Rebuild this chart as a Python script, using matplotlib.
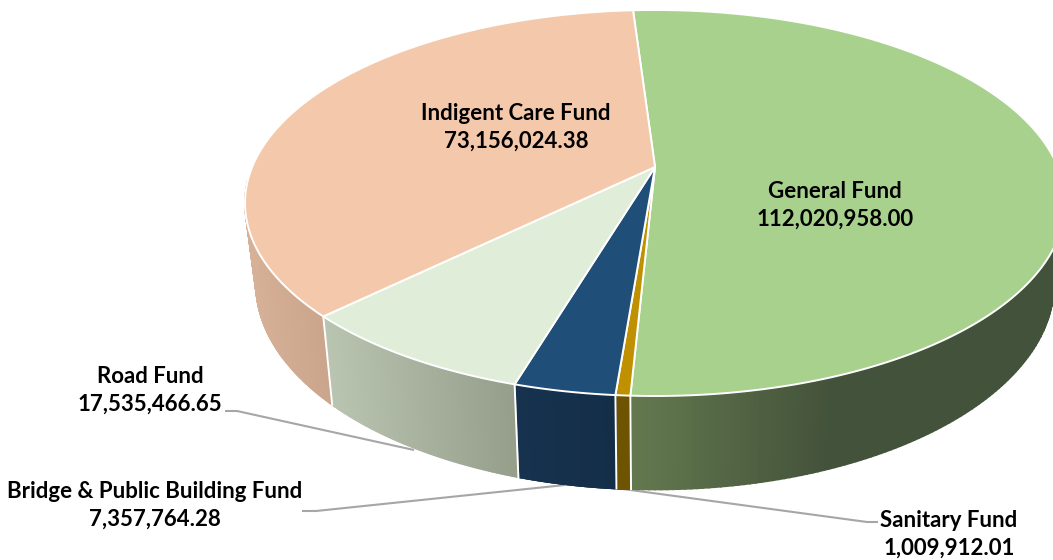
import numpy as np
import matplotlib
matplotlib.use("Agg")
import matplotlib.pyplot as plt
from matplotlib.colors import to_rgb

# --- data ---
funds = ["General Fund", "Sanitary Fund", "Bridge & Public Building Fund", "Road Fund", "Indigent Care Fund"]
values = [112020958.00, 1009912.01, 7357764.28, 17535466.65, 73156024.38]
value_labels = ["112,020,958.00", "1,009,912.01", "7,357,764.28", "17,535,466.65", "73,156,024.38"]
top_colors = ["#a9d18e", "#bf9000", "#1f4e79", "#e0edd8", "#f4c8aa"]
wall_left = ["#64794f", "#6e5400", "#16324e", "#b9c4b1", "#d6b198"]
wall_right = ["#43523a", "#6e5400", "#142e48", "#959e8b", "#caa58c"]
# perspective stretch of each slice's sweep (front slices look wider)
persp = [0.977, 1.22, 1.155, 1.137, 0.986]

# --- layout (pixel space) ---
W, H = 1053, 560
START = -3.07
APEX = (655, 167)
TOP = dict(cx=655, cy=203, a=410, b=193)
BOT = dict(cx=655, cy=284, a=399, b=205.5)
WALL_RANGE = (80, 277)
label_pos = {0: (835, 205.5), 1: (949, 534), 2: (155, 505.5), 3: (150, 390.5), 4: (516, 127.5)}
leaders = {1: [(623, 489), (867, 522), (878, 522)],
           2: [(565, 485), (316, 511), (302, 511)],
           3: [(414, 450), (237, 411), (225, 411)]}

plt.rcParams["font.family"] = ["Lato", "DejaVu Sans"]
fig = plt.figure(figsize=(W / 100, H / 100), dpi=100)
ax = fig.add_axes([0, 0, 1, 1])
ax.set_xlim(0, W)
ax.set_ylim(H, 0)
ax.axis("off")


def pt(e, phi):
    r = np.radians(phi)
    return e["cx"] + e["a"] * np.sin(r), e["cy"] - e["b"] * np.cos(r)


total = sum(values)
sweeps = np.array(values) / total * 360 * np.array(persp)
sweeps = sweeps * 360 / sweeps.sum()
edges = START + np.concatenate([[0], np.cumsum(sweeps)])

for n, pts in leaders.items():
    xs, ys = zip(*pts)
    ax.plot(xs, ys, color="#a6a6a6", lw=1.5, zorder=1, solid_capstyle="butt")

# side walls
for i in range(len(values)):
    lo, hi = max(edges[i], WALL_RANGE[0]), min(edges[i + 1], WALL_RANGE[1])
    if hi <= lo:
        continue
    c0, c1 = np.array(to_rgb(wall_left[i])), np.array(to_rgb(wall_right[i]))
    phis = np.linspace(lo, hi, 121)
    xt, _ = pt(TOP, phis)
    x_lo, x_hi = xt.min(), xt.max()
    # gradient span: General reaches its dark tone part-way along
    span_hi = x_lo + (200 if i == 0 else x_hi - x_lo)
    for p0, p1 in zip(phis[:-1], phis[1:]):
        xm = pt(TOP, (p0 + p1) / 2)[0]
        t = np.clip((xm - x_lo) / (span_hi - x_lo), 0, 1)
        col = c0 + (c1 - c0) * t
        a, b = pt(TOP, p0), pt(TOP, p1)
        c, d = pt(BOT, p1), pt(BOT, p0)
        ax.fill([a[0], b[0], c[0], d[0]], [a[1], b[1], c[1], d[1]],
                color=col, lw=1.2, zorder=2)

# wall separators
for e in edges:
    if WALL_RANGE[0] < e < WALL_RANGE[1]:
        a, d = pt(TOP, e), pt(BOT, e)
        ax.plot([a[0], d[0]], [a[1], d[1]], color="white", lw=1.4, zorder=3)

# top faces
for i in range(len(values)):
    phis = np.linspace(edges[i], edges[i + 1], 300)
    x, y = pt(TOP, phis)
    ax.fill(np.r_[APEX[0], x], np.r_[APEX[1], y], facecolor=top_colors[i],
            edgecolor="white", lw=1.4, zorder=4, joinstyle="round")

for i, (xc, yc) in label_pos.items():
    ax.text(xc, yc, f"{funds[i]}\n{value_labels[i]}", ha="center", va="center",
            fontsize=16, fontweight="bold", color="black", linespacing=1.4, zorder=6)

fig.savefig("out.png", dpi=100, facecolor="white")
